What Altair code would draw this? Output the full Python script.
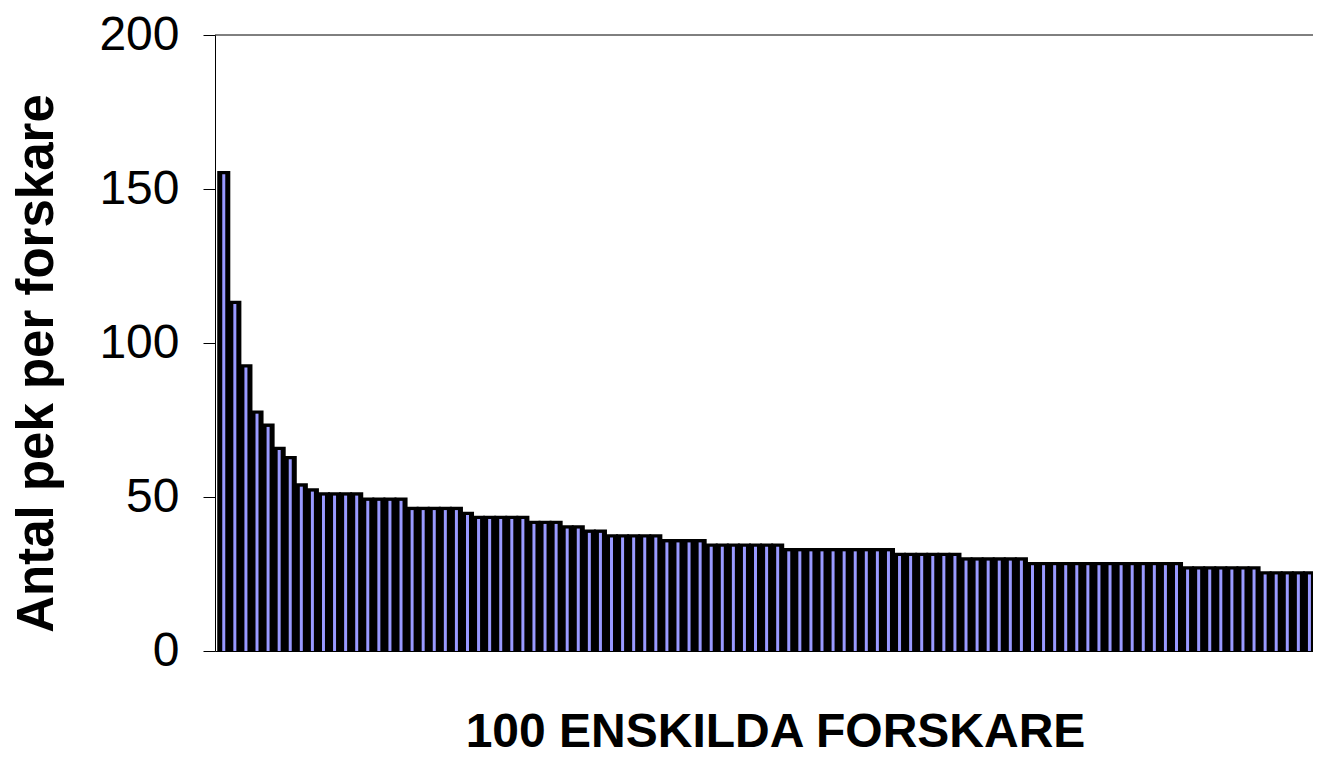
import altair as alt
import pandas as pd

# 100 researchers, sorted by number of pointers
forskare = list(range(1, 101))
pek = [
    155.5, 113.4, 92.8, 77.8, 73.5, 66.0, 63.0, 54.1, 52.5, 51.2,
    51.2, 51.2, 51.2, 49.5, 49.5, 49.5, 49.5, 46.5, 46.5, 46.5,
    46.5, 46.5, 44.9, 43.6, 43.6, 43.6, 43.6, 43.6, 42.0, 42.0,
    42.0, 40.5, 40.5, 39.1, 39.1, 37.6, 37.6, 37.6, 37.6, 37.6,
    36.0, 36.0, 36.0, 36.0, 34.6, 34.6, 34.6, 34.6, 34.6, 34.6,
    34.6, 33.1, 33.1, 33.1, 33.1, 33.1, 33.1, 33.1, 33.1, 33.1,
    33.1, 31.6, 31.6, 31.6, 31.6, 31.6, 31.6, 30.1, 30.1, 30.1,
    30.1, 30.1, 30.1, 28.6, 28.6, 28.6, 28.6, 28.6, 28.6, 28.6,
    28.6, 28.6, 28.6, 28.6, 28.6, 28.6, 28.6, 27.2, 27.2, 27.2,
    27.2, 27.2, 27.2, 27.2, 25.6, 25.6, 25.6, 25.6, 25.6, 25.6,
]
y_ticks = [0, 50, 100, 150, 200]
y_top = [200]

df = pd.DataFrame({"forskare": forskare, "pek": pek})
top_df = pd.DataFrame({"axeltopp": y_top})

FONT = "Liberation Sans"
xscale = alt.Scale(domain=[0.16, 98.37], nice=False, zero=False)
yscale = alt.Scale(domain=[0, 200], nice=False)

base = alt.Chart(df).transform_calculate(
    start="datum.forskare - 1", mid="datum.forskare - 0.5"
)

black = base.mark_rect(fill="black", stroke="black", strokeWidth=2, clip=True).encode(
    x=alt.X(
        "start:Q",
        scale=xscale,
        axis=alt.Axis(
            title="100 ENSKILDA FORSKARE",
            labels=False,
            ticks=False,
            grid=False,
            domain=True,
            domainColor="black",
            domainWidth=1,
            titleX=560,
            titleY=95,
            titleAlign="center",
            titleBaseline="alphabetic",
            titleFont=FONT,
            titleFontSize=48,
            titleFontWeight="bold",
            titleColor="black",
        ),
    ),
    x2=alt.X2("forskare"),
    y=alt.Y(
        "pek:Q",
        scale=yscale,
        axis=alt.Axis(
            values=y_ticks,
            title="Antal pek per forskare",
            grid=False,
            domainColor="black",
            domainWidth=1,
            tickColor="black",
            tickSize=12,
            tickWidth=1,
            labelFont=FONT,
            labelFontSize=48,
            labelColor="black",
            labelPadding=24,
            titleFont=FONT,
            titleFontSize=51,
            titleFontWeight="bold",
            titleColor="black",
            titleAngle=270,
            titleX=-163,
            titleY=328,
            titleAlign="center",
            titleBaseline="alphabetic",
        ),
    ),
    y2=alt.datum(0),
)

lavender = base.mark_bar(fill="#9999FF", size=3, clip=True, yOffset=2.3).encode(
    x=alt.X("mid:Q", scale=xscale),
    y=alt.Y("pek:Q", scale=yscale),
    y2=alt.datum(0),
)

rule = alt.Chart(top_df).mark_rule(color="black", strokeWidth=1).encode(
    y=alt.Y("axeltopp:Q", scale=yscale)
)

chart = (
    alt.layer(black, lavender, rule)
    .properties(
        width=1098,
        height=616,
        autosize=alt.AutoSizeParams(type="none"),
        padding={"left": 207, "top": 27, "right": 0, "bottom": 100},
        background="white",
    )
    .configure_view(stroke=None)
)

chart.save("out.html", embed_options={"renderer": "svg", "actions": False})
